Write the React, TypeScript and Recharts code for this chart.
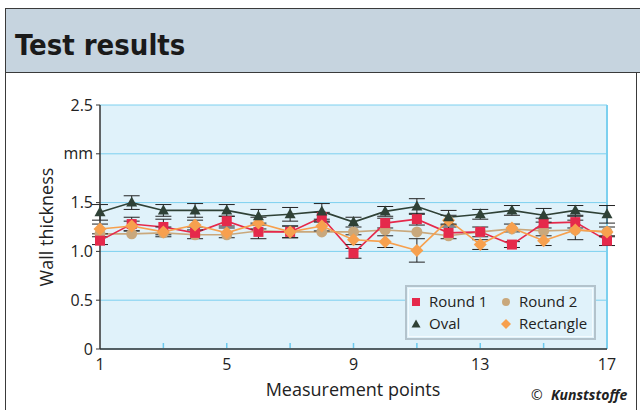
import React from "react";
import {
  LineChart,
  Line,
  XAxis,
  YAxis,
  CartesianGrid,
  ErrorBar,
  ReferenceLine,
} from "recharts";

const points = [1, 2, 3, 4, 5, 6, 7, 8, 9, 10, 11, 12, 13, 14, 15, 16, 17];
const round1 = [1.11, 1.28, 1.25, 1.19, 1.31, 1.2, 1.2, 1.35, 0.98, 1.29, 1.33, 1.19, 1.2, 1.07, 1.29, 1.3, 1.11];
const round2 = [1.18, 1.18, 1.19, 1.17, 1.17, 1.21, 1.2, 1.2, 1.2, 1.22, 1.2, 1.16, 1.2, 1.23, 1.21, 1.22, 1.2];
const oval = [1.4, 1.5, 1.42, 1.42, 1.42, 1.36, 1.38, 1.41, 1.3, 1.41, 1.46, 1.35, 1.38, 1.42, 1.37, 1.42, 1.38];
const rectangle = [1.23, 1.26, 1.2, 1.27, 1.19, 1.29, 1.2, 1.26, 1.12, 1.1, 1.01, 1.32, 1.07, 1.24, 1.11, 1.22, 1.2];
const round1Err = [0.04, 0.07, 0.08, 0.06, 0.05, 0.07, 0.06, 0.05, 0.05, 0.05, 0.06, 0.06, 0.05, 0.03, 0.05, 0.06, 0.05];
const ovalErr = [0.08, 0.07, 0.06, 0.07, 0.06, 0.07, 0.07, 0.08, 0.05, 0.05, 0.08, 0.07, 0.05, 0.05, 0.07, 0.05, 0.09];
const rectangleErr = [0.05, 0.05, 0.05, 0.05, 0.05, 0.06, 0.06, 0.05, 0.05, 0.06, 0.12, 0.05, 0.05, 0.04, 0.05, 0.1, 0.05];

const xTicks = [1, 3, 5, 7, 9, 11, 13, 15, 17];
const yTicks = [0, 0.5, 1, 1.5, 2, 2.5];

const RED = "#e5294b";
const TAN = "#c9a87c";
const DARK = "#2f4136";
const ORANGE = "#f7a04e";
const FONT = "'Open Sans', 'Noto Sans', sans-serif";

const data = points.map((p, i) => ({
  point: p,
  round1: round1[i],
  round1Err: round1Err[i],
  round2: round2[i],
  oval: oval[i],
  ovalErr: ovalErr[i],
  rectangle: rectangle[i],
  rectangleErr: rectangleErr[i],
}));

const squareDot = (props: any) => {
  const { cx, cy, index } = props;
  return <rect key={`sq-${index}`} x={cx - 5} y={cy - 5} width={10} height={10} fill={RED} />;
};
const circleDot = (props: any) => {
  const { cx, cy, index } = props;
  return <circle key={`ci-${index}`} cx={cx} cy={cy} r={5.5} fill={TAN} />;
};
const triangleDot = (props: any) => {
  const { cx, cy, index } = props;
  return (
    <polygon
      key={`tr-${index}`}
      points={`${cx},${cy - 6} ${cx + 5.5},${cy + 4} ${cx - 5.5},${cy + 4}`}
      fill={DARK}
    />
  );
};
const diamondDot = (props: any) => {
  const { cx, cy, index } = props;
  return (
    <polygon
      key={`di-${index}`}
      points={`${cx},${cy - 6.5} ${cx + 6.5},${cy} ${cx},${cy + 6.5} ${cx - 6.5},${cy}`}
      fill={ORANGE}
    />
  );
};

// odd points get a small inner tick, every fourth one gets a label
const XTick = (props: any) => {
  const { x, y, payload } = props;
  const axisY = y - 8;
  const v = payload.value;
  return (
    <g>
      {v !== 1 && v !== 17 && (
        <line x1={x} x2={x} y1={axisY - 1} y2={axisY - 6} stroke="#6ccaee" strokeWidth={1.5} />
      )}
      {(v - 1) % 4 === 0 && (
        <text x={x} y={axisY + 21} textAnchor="middle" fontSize={16} fill="#222" fontFamily={FONT}>
          {v}
        </text>
      )}
    </g>
  );
};

const App = () => {
  return (
    <div style={{ position: "relative", width: 640, height: 410, background: "#fff", overflow: "hidden" }}>
      <style>{"body{margin:0}"}</style>
      <svg width={640} height={410} style={{ position: "absolute", left: 0, top: 0 }}>
        <rect x={5.5} y={8.5} width={640} height={64} fill="#c6d4df" stroke="#3a3a3a" strokeWidth={1} />
        <line x1={5.5} x2={5.5} y1={73} y2={410} stroke="#3a3a3a" strokeWidth={1} />
        <line x1={636.5} x2={636.5} y1={73} y2={410} stroke="#3a3a3a" strokeWidth={1} />
        <text
          x={15}
          y={55}
          fontSize={29}
          fontWeight="bold"
          fill="#1a1a1a"
          fontFamily="'Liberation Sans Narrow', 'DejaVu Sans Condensed', sans-serif"
        >
          Test results
        </text>
      </svg>
      <div style={{ position: "absolute", left: 0, top: 0 }}>
        <LineChart width={640} height={410} data={data} margin={{ top: 105, right: 33, left: 40, bottom: 31 }}>
          <CartesianGrid vertical={false} stroke="#7cd0ef" strokeWidth={1} fill="#e0f2fa" />
          <XAxis
            dataKey="point"
            type="number"
            domain={[1, 17]}
            ticks={xTicks}
            tick={<XTick />}
            tickLine={false}
            tickSize={6}
            tickMargin={2}
            height={30}
            axisLine={{ stroke: "#333", strokeWidth: 1.5 }}
          />
          <YAxis
            type="number"
            domain={[0, 2.5]}
            ticks={yTicks}
            width={60}
            tickSize={4}
            tickMargin={3}
            tickFormatter={(v: number) => (v === 2 ? "mm" : v === 0 ? "0" : v.toFixed(1))}
            tick={{ fill: "#222", fontSize: 16, fontFamily: FONT }}
            tickLine={{ stroke: "#333" }}
            axisLine={{ stroke: "#333", strokeWidth: 1.5 }}
          />
          <ReferenceLine x={17} stroke="#7cd0ef" strokeWidth={2} />
          <Line
            dataKey="round2"
            stroke={TAN}
            strokeWidth={1.6}
            dot={circleDot}
            activeDot={false}
            isAnimationActive={false}
          />
          <Line
            dataKey="round1"
            stroke={RED}
            strokeWidth={1.6}
            dot={squareDot}
            activeDot={false}
            isAnimationActive={false}
          >
            <ErrorBar dataKey="round1Err" direction="y" width={8} stroke="#222" strokeWidth={1} isAnimationActive={false} />
          </Line>
          <Line
            dataKey="rectangle"
            stroke={ORANGE}
            strokeWidth={1.6}
            dot={diamondDot}
            activeDot={false}
            isAnimationActive={false}
          >
            <ErrorBar dataKey="rectangleErr" direction="y" width={8} stroke="#222" strokeWidth={1} isAnimationActive={false} />
          </Line>
          <Line
            dataKey="oval"
            stroke={DARK}
            strokeWidth={1.6}
            dot={triangleDot}
            activeDot={false}
            isAnimationActive={false}
          >
            <ErrorBar dataKey="ovalErr" direction="y" width={8} stroke="#222" strokeWidth={1} isAnimationActive={false} />
          </Line>
        </LineChart>
      </div>
      <svg width={640} height={410} style={{ position: "absolute", left: 0, top: 0, pointerEvents: "none" }}>
        <text
          x={53}
          y={227}
          transform="rotate(-90 53 227)"
          textAnchor="middle"
          fontSize={18}
          fill="#222"
          fontFamily={FONT}
        >
          Wall thickness
        </text>
        <text x={353} y={396} textAnchor="middle" fontSize={18} fill="#222" fontFamily={FONT}>
          Measurement points
        </text>
        <text x={531} y={400} fontSize={14} fill="#222" fontFamily={FONT}>
          ©
        </text>
        <text x={551} y={400} fontSize={14} fill="#222" fontWeight="bold" fontStyle="italic" fontFamily={FONT}>
          Kunststoffe
        </text>
        {/* legend */}
        <rect x={406} y={286} width={189} height={53} fill="#e0f2fa" stroke="#b3c3cc" strokeWidth={2} />
        <rect x={408.5} y={288.5} width={184} height={48} fill="none" stroke="#f4fbfe" strokeWidth={1} />
        <rect x={412} y={298} width={8} height={8} fill={RED} />
        <text x={429} y={307} fontSize={15} fill="#222" fontFamily={FONT}>
          Round 1
        </text>
        <circle cx={506} cy={302} r={4} fill={TAN} />
        <text x={519} y={307} fontSize={15} fill="#222" fontFamily={FONT}>
          Round 2
        </text>
        <polygon points="416,319.5 420.5,327.5 411.5,327.5" fill={DARK} />
        <text x={429} y={329} fontSize={15} fill="#222" fontFamily={FONT}>
          Oval
        </text>
        <polygon points="506,319 511,324 506,329 501,324" fill={ORANGE} />
        <text x={519} y={329} fontSize={15} fill="#222" fontFamily={FONT}>
          Rectangle
        </text>
      </svg>
    </div>
  );
};

export default App;
